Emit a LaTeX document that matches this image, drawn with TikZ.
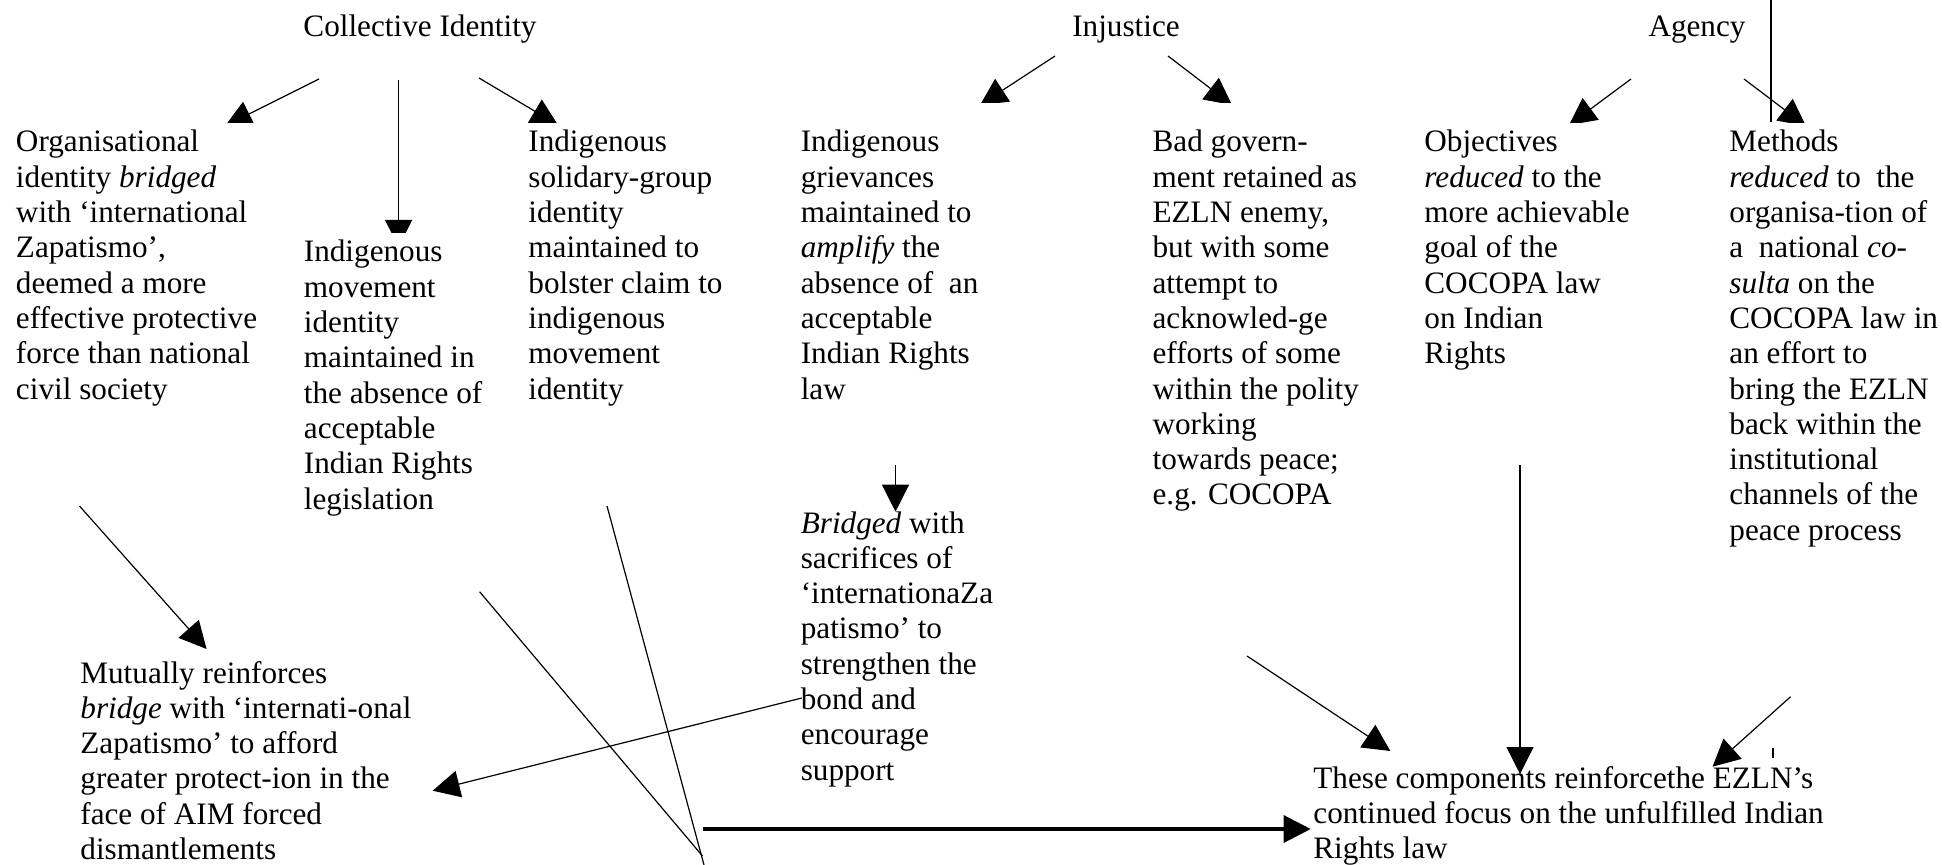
\documentclass[tikz,border=0pt]{standalone}
\usepackage{fontspec}
\setmainfont{Liberation Serif}
\usetikzlibrary{arrows.meta}
\newcommand{\bodysize}{\fontsize{15.6pt}{17.65pt}\selectfont}
\newcommand{\txtlines}[1]{\begin{tabular}[t]{@{}l@{}}#1\end{tabular}}

\begin{document}
\begin{tikzpicture}[x={(0.5pt,0)},y={(0,-0.5pt)},
  txt/.style={anchor=base west,inner sep=0pt,font=\bodysize},
  head/.style={anchor=base,inner sep=0pt,font=\bodysize},
  link/.style={line width=0.6pt,-{Triangle[length=13.5pt,width=13.5pt]}},
  plain/.style={line width=0.6pt},
  heavy/.style={line width=1.6pt,-{Triangle[length=13.5pt,width=13.5pt]}},
  paper/.style={fill=white}]
\useasboundingbox (0,0) rectangle (1942,865);

% connector end points
\coordinate (ciL0) at (319,79);    \coordinate (ciL1) at (225,126);
\coordinate (ciM0) at (398.6,80);  \coordinate (ciM1) at (398.6,247);
\coordinate (ciR0) at (479,78);    \coordinate (ciR1) at (558,125);
\coordinate (inL0) at (1055,56);   \coordinate (inL1) at (980,105);
\coordinate (inR0) at (1168,56);   \coordinate (inR1) at (1232,105);
\coordinate (agL0) at (1631,79);   \coordinate (agL1) at (1569,125);
\coordinate (agR0) at (1744,79);   \coordinate (agR1) at (1806,126);
\coordinate (agV0) at (1771,0);    \coordinate (agV1) at (1771,122);
\coordinate (aOut) at (79.5,506);  \coordinate (mIn1) at (206.6,649);
\coordinate (hOut) at (801.8,698); \coordinate (mIn2) at (432.7,790.7);
\coordinate (dOut) at (895.5,465); \coordinate (hIn)  at (895.5,511.7);
\coordinate (eOut) at (1247,656);  \coordinate (tIn1) at (1390.3,751);
\coordinate (fOut) at (1520,465);  \coordinate (tIn2) at (1520,774);
\coordinate (gOut) at (1790.6,696.7); \coordinate (tIn3) at (1712.5,766.7);
\coordinate (bOut) at (479.6,591.7); \coordinate (bEnd) at (702.5,856);
\coordinate (cOut) at (607,506);   \coordinate (cEnd) at (704,865);
\coordinate (joint) at (703,829);  \coordinate (tIn0) at (1310.7,829);
\coordinate (tick0) at (1773,748); \coordinate (tick1) at (1773,758);

% upper connectors (heads partly hidden by the text boxes below them)
\draw[link] (ciL0) -- (ciL1);
\draw[link] (ciM0) -- (ciM1);
\draw[link] (ciR0) -- (ciR1);
\draw[link] (inL0) -- (inL1);
\draw[link] (inR0) -- (inR1);
\draw[link] (agL0) -- (agL1);
\draw[link] (agR0) -- (agR1);
\draw[plain] (agV0) -- (agV1);

% white text boxes
\fill[paper] (5,123) rectangle (290,140);
\fill[paper] (295,233) rectangle (515,250);
\fill[paper] (520,123) rectangle (760,140);
\fill[paper] (795,103) rectangle (1030,120);
\fill[paper] (1145,103) rectangle (1380,120);
\fill[paper] (1418,123) rectangle (1690,140);
\fill[paper] (1723,123) rectangle (1942,140);

% headings
\node[head] (ci) at (420,37) {Collective Identity};
\node[head] (inj) at (1126,37) {Injustice};
\node[head] (ag) at (1697,37) {Agency};

% text blocks
\node[txt] (orgid) at (15.6,152) {\txtlines{Organisational\\identity \textit{bridged}\\with ‘international\\Zapatismo’,\\deemed a more\\effective protective\\force than national\\civil society}};
\node[txt] (movid) at (303.5,262) {\txtlines{Indigenous\\movement\\identity\\maintained in\\the absence of\\acceptable\\Indian Rights\\legislation}};
\node[txt] (solid) at (528,152) {\txtlines{Indigenous\\solidary-group\\identity\\maintained to\\bolster claim to\\indigenous\\movement\\identity}};
\node[txt] (griev) at (800.4,152) {\txtlines{Indigenous\\grievances\\maintained to\\\textit{amplify} the\\absence of~ an\\acceptable\\Indian Rights\\law}};
\node[txt] (badgov) at (1152.2,152) {\txtlines{Bad govern-\\ment retained as\\EZLN enemy,\\but with some\\attempt to\\acknowled-ge\\efforts of some\\within the polity\\working\\towards peace;\\e.g. COCOPA}};
\node[txt] (obj) at (1424,152) {\txtlines{Objectives\\\textit{reduced} to the\\more achievable\\goal of the\\COCOPA law\\on Indian\\Rights}};
\node[txt] (meth) at (1729,152) {\txtlines{Methods\\\textit{reduced} to~ the\\organisa-tion of\\a~ national \textit{co-}\\\textit{sulta} on the\\COCOPA law in\\an effort to\\bring the EZLN\\back within the\\institutional\\channels of the\\peace process}};
\node[txt] (bridged) at (800.4,533) {\txtlines{\textit{Bridged} with\\sacrifices of\\‘internationaZa\\patismo’ to\\strengthen the\\bond and\\encourage\\support}};
\node[txt] (mutual) at (80,683) {\txtlines{Mutually reinforces\\\textit{bridge} with ‘internati-onal\\Zapatismo’ to afford\\greater protect-ion in the\\face of AIM forced\\dismantlements}};
\node[txt] (focus) at (1313,788) {\txtlines{These components reinforcethe EZLN’s\\continued focus on the unfulfilled Indian\\Rights law}};

% lower connectors
\draw[link] (aOut) -- (mIn1);
\draw[link] (hOut) -- (mIn2);
\draw[link] (dOut) -- (hIn);
\draw[link] (eOut) -- (tIn1);
\draw[link] (fOut) -- (tIn2);
\draw[link] (gOut) -- (tIn3);
\draw[plain] (bOut) -- (bEnd);
\draw[plain] (cOut) -- (cEnd);
\draw[heavy] (joint) -- (tIn0);
\draw[plain] (tick0) -- (tick1);
\end{tikzpicture}
\end{document}
